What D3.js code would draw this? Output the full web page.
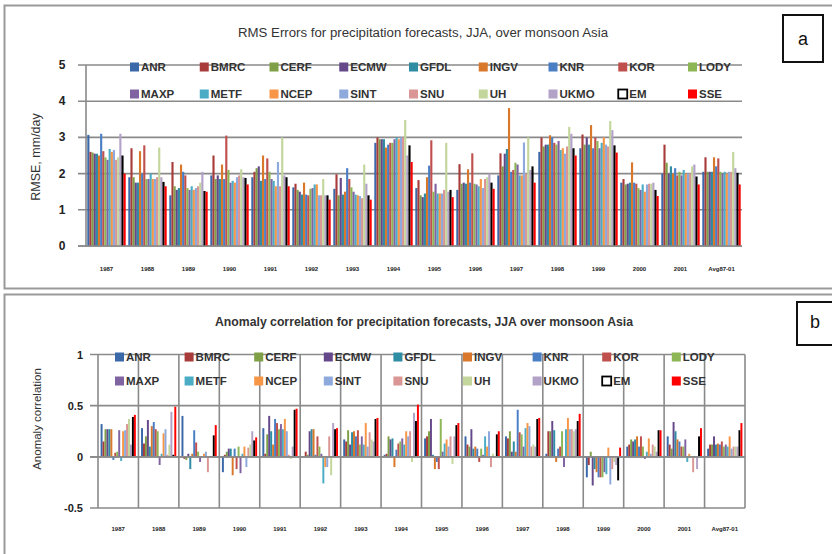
<!DOCTYPE html>
<html><head><meta charset="utf-8">
<script src="https://cdn.jsdelivr.net/npm/d3@7"></script>
<style>body{margin:0;background:#fff} svg{display:block;font-family:"Liberation Sans",Arial,sans-serif}</style>
</head><body><svg id="c" width="832" height="554"></svg>
<script>
const categories = ["1987","1988","1989","1990","1991","1992","1993","1994","1995","1996","1997","1998","1999","2000","2001","Avg87-01"];
const models = ["ANR","BMRC","CERF","ECMW","GFDL","INGV","KNR","KOR","LODY","MAXP","METF","NCEP","SINT","SNU","UH","UKMO","EM","SSE"];
const modelColors = ["#3A68A8","#A83C3A","#7FA046","#65488A","#2E8CA3","#D9772B","#4A7EC4","#C0504D","#8DB654","#8064A2","#4BACC6","#F79646","#8EA9DB","#D99694","#C3D69B","#B3A2C7","#000000","#FF0000"];
const rmseTicks = [0,1,2,3,4,5];
const acTicks = [-0.5,0,0.5,1];
const acTickLabels = ["-0.5","0","0.5","1"];

// RMSE (mm/day), series order as in models
const rmse1987 = [3.07,2.6,2.58,2.55,2.55,2.5,3.1,2.62,2.45,2.38,2.68,2.6,2.65,2.38,2.45,3.1,2.5,2.0];
const rmse1988 = [1.9,2.7,1.9,1.75,1.75,2.62,2.0,2.78,1.85,1.85,2.0,1.85,1.85,1.9,2.72,1.9,1.77,1.65];
const rmse1989 = [1.4,2.32,1.65,1.55,1.6,2.25,2.05,1.95,1.6,1.55,1.65,1.55,1.6,1.65,1.75,2.05,1.52,1.5];
const rmse1990 = [1.95,2.5,1.85,1.95,1.85,2.25,1.85,3.05,2.1,1.75,1.8,1.75,1.9,1.95,2.12,1.9,1.88,1.7];
const rmse1991 = [1.9,2.05,2.15,2.2,1.8,2.5,1.85,2.42,2.05,1.85,1.8,1.65,2.32,1.65,3.0,1.95,1.9,1.65];
const rmse1992 = [1.62,1.72,1.55,1.5,1.42,1.75,1.42,1.4,1.58,1.6,1.7,1.7,1.4,1.4,1.85,1.4,1.4,1.28];
const rmse1993 = [1.58,1.98,1.4,1.88,1.42,1.5,2.15,1.85,1.62,1.5,1.42,1.4,1.38,1.32,2.25,1.72,1.4,1.28];
const rmse1994 = [2.85,3.0,2.95,2.95,2.95,2.72,2.8,2.85,2.85,2.95,3.0,2.95,3.0,3.0,3.48,2.5,2.78,2.32];
const rmse1995 = [1.6,1.82,1.4,1.35,1.45,1.9,2.22,2.92,1.5,1.72,1.45,1.45,1.45,1.55,2.85,1.5,1.55,1.35];
const rmse1996 = [1.55,2.26,1.72,1.75,1.72,2.12,1.75,2.56,1.72,1.7,1.65,1.85,1.6,1.85,1.9,2.0,1.75,1.58];
const rmse1997 = [1.95,2.56,2.2,2.55,2.68,3.81,2.05,2.1,2.3,2.25,1.95,1.95,2.86,2.0,3.0,2.1,2.2,1.75];
const rmse1998 = [2.6,3.0,2.75,2.8,2.8,3.06,3.0,2.85,2.8,2.9,2.65,2.7,2.55,2.75,3.29,3.1,2.7,2.5];
const rmse1999 = [2.7,3.08,2.8,3.0,2.8,3.34,2.7,3.0,2.9,2.7,2.85,3.0,2.8,2.75,3.45,3.2,2.78,2.58];
const rmse2000 = [1.75,1.85,1.7,1.72,1.75,2.31,1.75,1.72,1.6,1.55,1.7,1.5,1.7,1.72,1.72,1.75,1.55,1.38];
const rmse2001 = [2.0,2.8,2.3,2.0,2.2,2.0,2.15,1.95,2.05,1.95,2.1,2.0,2.0,2.0,2.2,2.25,1.92,1.7];
const rmseAvg  = [2.05,2.45,2.05,2.05,2.05,2.45,2.2,2.42,2.05,2.0,2.05,2.0,2.05,2.05,2.6,2.15,2.02,1.7];

// Anomaly correlation, series order as in models
const ac1987 = [0.32,0.15,0.27,0.27,0.27,0.27,-0.03,0.04,0.05,0.26,-0.04,0.25,0.26,0.32,0.37,0.12,0.39,0.41];
const ac1988 = [0.28,0.13,0.2,0.36,0.1,0.3,0.34,0.27,0.25,-0.08,0.03,0.23,0.27,0.02,0.12,0.44,0.02,0.49];
const ac1989 = [0.4,-0.02,-0.03,0.03,-0.12,0.03,0.26,0.14,0.05,-0.05,0.0,0.03,0.05,-0.15,0.0,0.0,0.21,0.31];
const ac1990 = [-0.15,0.02,0.05,0.08,0.08,-0.18,0.08,-0.12,0.1,-0.16,0.03,0.1,-0.1,0.09,0.12,0.25,0.16,0.19];
const ac1991 = [0.28,0.03,0.22,0.4,0.25,0.12,0.37,0.33,0.27,0.32,0.27,0.37,0.25,0.02,-0.02,0.1,0.46,0.47];
const ac1992 = [0.0,0.05,0.02,0.25,0.27,0.27,0.02,0.2,0.1,0.03,-0.26,-0.1,-0.1,0.2,-0.18,0.33,0.27,0.28];
const ac1993 = [0.17,0.15,0.26,0.12,0.24,0.25,0.2,0.26,0.12,0.2,0.12,0.33,0.1,0.24,0.17,0.15,0.37,0.38];
const ac1994 = [0.02,0.03,0.2,0.17,0.18,-0.1,0.07,0.13,0.15,0.18,0.12,0.25,0.2,0.25,-0.05,0.43,0.35,0.51];
const ac1995 = [0.18,0.2,0.25,0.37,0.02,-0.12,-0.05,-0.12,0.37,0.05,0.13,0.17,0.1,0.2,-0.07,0.2,0.31,0.33];
const ac1996 = [0.2,0.12,0.1,0.27,0.08,0.1,0.08,-0.05,0.08,0.02,0.2,0.1,0.25,-0.1,0.03,0.0,0.22,0.25];
const ac1997 = [0.2,0.18,0.25,0.05,0.15,0.05,0.46,0.24,0.22,0.1,0.28,0.33,0.3,0.1,0.12,0.1,0.37,0.38];
const ac1998 = [0.03,0.25,0.25,0.35,0.26,-0.05,0.08,0.1,0.25,-0.1,0.27,0.38,0.27,0.27,0.25,0.27,0.35,0.42];
const ac1999 = [-0.2,-0.08,0.05,-0.28,-0.12,-0.15,-0.2,-0.2,-0.2,-0.15,-0.17,0.09,-0.27,-0.12,-0.05,-0.08,-0.23,0.09];
const ac2000 = [0.1,0.12,0.17,0.15,0.17,0.2,0.1,0.2,0.1,-0.02,0.05,0.18,0.03,0.12,0.1,0.05,0.26,0.26];
const ac2001 = [0.2,0.12,0.08,0.34,0.25,0.17,0.15,0.1,0.1,0.17,-0.05,0.03,0.0,-0.15,0.0,-0.12,0.2,0.28];
const acAvg  = [0.08,0.12,0.12,0.2,0.12,0.13,0.12,0.15,0.1,0.12,0.1,0.2,0.08,0.1,0.1,0.1,0.26,0.33];

const rmseRows = [rmse1987,rmse1988,rmse1989,rmse1990,rmse1991,rmse1992,rmse1993,rmse1994,rmse1995,rmse1996,rmse1997,rmse1998,rmse1999,rmse2000,rmse2001,rmseAvg];
const acRows = [ac1987,ac1988,ac1989,ac1990,ac1991,ac1992,ac1993,ac1994,ac1995,ac1996,ac1997,ac1998,ac1999,ac2000,ac2001,acAvg];

const svg = d3.select("#c");
const GRID = "#8a8a8a";

// panel frames
svg.append("rect").attr("x",4.5).attr("y",5.5).attr("width",840).attr("height",283)
  .attr("fill","#fff").attr("stroke","#9a9a9a").attr("stroke-width",2);
svg.append("rect").attr("x",4.5).attr("y",294.5).attr("width",840).attr("height",270)
  .attr("fill","#fff").attr("stroke","#9a9a9a").attr("stroke-width",2);

function drawPanel(o) {
  const g = svg.append("g");
  const x0 = d3.scaleBand().domain(categories).range([o.left, o.right]);
  const bw = x0.bandwidth();
  const x1 = d3.scaleBand().domain(models).range([o.barPad, bw - o.barPad]);
  const y = d3.scaleLinear().domain(o.domain).range([o.bottom, o.top]);
  const color = d3.scaleOrdinal().domain(models).range(modelColors);

  // horizontal gridlines
  g.append("g").selectAll("line").data(o.ticks).join("line")
    .attr("x1", o.left - 8).attr("x2", o.right)
    .attr("y1", d => y(d)).attr("y2", d => y(d))
    .attr("stroke", GRID).attr("stroke-width", 1.6);
  // vertical lines
  const vlines = o.vgrid ? d3.range(categories.length + 1).map(i => o.left + i * bw) : [o.left];
  g.append("g").selectAll("line").data(vlines).join("line")
    .attr("x1", d => d).attr("x2", d => d)
    .attr("y1", y(o.domain[0])).attr("y2", y(o.domain[1]))
    .attr("stroke", GRID).attr("stroke-width", 1.6);

  // y tick labels
  g.append("g").selectAll("text").data(o.ticks).join("text")
    .attr("x", o.tickX).attr("y", d => y(d))
    .attr("text-anchor", o.tickAnchor).attr("dominant-baseline", "central")
    .attr("font-size", o.tickSize).attr("font-weight", "bold").attr("fill", "#222")
    .text((d, i) => o.tickLabels[i]);

  // legend
  const leg = g.append("g");
  models.forEach((m, i) => {
    const row = i < 9 ? 0 : 1, col = i % 9;
    const lx = o.legX + col * o.legStep, ly = o.legY[row];
    const isEM = m === "EM";
    leg.append("rect").attr("x", lx).attr("y", ly - 4.5).attr("width", 9).attr("height", 9)
      .attr("fill", isEM ? "#fff" : color(m)).attr("stroke", isEM ? "#000" : "none").attr("stroke-width", isEM ? 1.8 : 0);
    leg.append("text").attr("x", lx + 11).attr("y", ly).attr("dominant-baseline", "central")
      .attr("font-size", 11.5).attr("font-weight", "bold").attr("fill", "#333").text(m);
  });

  // bars
  const zero = y(Math.max(0, o.domain[0]));
  const grp = g.append("g").selectAll("g").data(o.rows).join("g")
    .attr("transform", (d, i) => `translate(${x0(categories[i])},0)`);
  grp.selectAll("rect").data(d => d.map((v, j) => ({m: models[j], v})))
    .join("rect")
    .attr("x", d => x1(d.m)).attr("width", x1.bandwidth())
    .attr("y", d => Math.min(y(d.v), zero)).attr("height", d => Math.abs(y(d.v) - zero))
    .attr("fill", d => color(d.m));

  // zero line redrawn on top
  g.append("line").attr("x1", o.left - 8).attr("x2", o.right).attr("y1", zero).attr("y2", zero)
    .attr("stroke", GRID).attr("stroke-width", 1.6);

  // x labels
  g.append("g").selectAll("text").data(categories).join("text")
    .attr("x", d => x0(d) + bw / 2).attr("y", o.xLabelY)
    .attr("text-anchor", "middle").attr("dominant-baseline", "central")
    .attr("font-size", 6).attr("font-weight", "bold").attr("fill", "#222").text(d => d);

  // title
  g.append("text").attr("x", o.titleX).attr("y", o.titleY).attr("text-anchor", "middle")
    .attr("dominant-baseline", "central").attr("font-size", 12).attr("font-weight", o.titleWeight)
    .attr("fill", "#333").attr("textLength", o.titleLen).attr("lengthAdjust", "spacingAndGlyphs").text(o.title);

  // y axis title
  g.append("text").attr("transform", `translate(${o.yTitleX},${o.yTitleY}) rotate(-90)`)
    .attr("text-anchor", "middle").attr("dominant-baseline", "central")
    .attr("font-size", o.yTitleSize).attr("fill", "#333").text(o.yTitle);

  // panel tag
  g.append("rect").attr("x", o.tag.x).attr("y", o.tag.y).attr("width", o.tag.w).attr("height", o.tag.h)
    .attr("fill", "#fff").attr("stroke", "#111").attr("stroke-width", 2);
  g.append("text").attr("x", o.tag.tx).attr("y", o.tag.ty).attr("text-anchor", "middle")
    .attr("dominant-baseline", "central").attr("font-size", 18).attr("fill", "#111")
    .text(o.tag.label);
}

drawPanel({
  left: 86, right: 742, top: 65, bottom: 246, domain: [0, 5], ticks: rmseTicks,
  tickLabels: rmseTicks.map(String), tickX: 62, tickAnchor: "middle", tickSize: 12,
  vgrid: false, barPad: 1.3, rows: rmseRows,
  legX: 130, legStep: 69.75, legY: [67, 94],
  xLabelY: 269,
  title: "RMS Errors for precipitation forecasts, JJA, over monsoon Asia", titleX: 423, titleY: 33, titleLen: 370, titleWeight: "normal",
  yTitle: "RMSE, mm/day", yTitleX: 36, yTitleY: 157, yTitleSize: 12.5,
  tag: {x: 783, y: 15, w: 40, h: 47, tx: 803, ty: 39, label: "a"}
});

drawPanel({
  left: 98, right: 745, top: 354.5, bottom: 508, domain: [-0.5, 1], ticks: acTicks,
  tickLabels: acTickLabels, tickX: 83, tickAnchor: "end", tickSize: 11,
  vgrid: true, barPad: 2.6, rows: acRows,
  legX: 115, legStep: 69.6, legY: [357, 381],
  xLabelY: 529,
  title: "Anomaly correlation for precipitation forecasts, JJA over monsoon Asia", titleX: 424, titleY: 322, titleLen: 418, titleWeight: "bold",
  yTitle: "Anomaly correlation", yTitleX: 37, yTitleY: 419, yTitleSize: 11.5,
  tag: {x: 797, y: 302, w: 48, h: 43, tx: 815, ty: 322, label: "b"}
});
</script></body></html>
